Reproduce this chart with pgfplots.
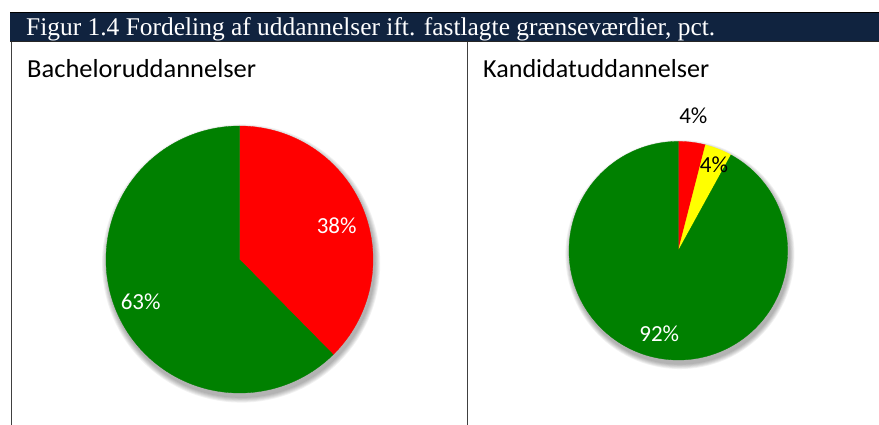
\documentclass[border=0pt]{standalone}
\usepackage{pgfplots}
\pgfplotsset{compat=1.18}
\usepackage{fontspec}
\setmainfont{Liberation Serif}
\newfontfamily\carlito{Carlito}
\definecolor{navy}{HTML}{10233F}
\definecolor{pgreen}{HTML}{008000}
\definecolor{pred}{HTML}{FF0000}
\definecolor{pyellow}{HTML}{FFFF00}

% data (pct.)
\def\bRed{38}\def\bGreen{63}
\def\kRed{4}\def\kYellow{4}\def\kGreen{92}

\pgfplotsset{pie/.style={scale only axis, anchor=center, hide axis, clip=false,
  xmin=-1.2,xmax=1.2,ymin=-1.2,ymax=1.2}}

\begin{document}
\begin{tikzpicture}[x=1pt,y=-1pt]
\useasboundingbox (0,0) rectangle (879,425);
\fill[white] (0,0) rectangle (879,425);
\fill[navy] (10,12) rectangle (879,42);
\draw[black,line width=1.3pt] (10,12.6) -- (879,12.6);
\draw[black!85,line width=1.3pt] (10,41.4) -- (879,41.4);
\draw[black!75,line width=1.2pt] (11.6,42) -- (11.6,425);
\draw[black!75,line width=1.2pt] (467.6,42) -- (467.6,425);
\node[anchor=base west,inner sep=0,text=white,font=\fontsize{25.5}{30}\selectfont] at (26,36)
  {\resizebox{689pt}{\height}{Figur 1.4 Fordeling af uddannelser ift. fastlagte grænseværdier, pct.}};
\node[anchor=base west,inner sep=0,font=\carlito\fontsize{26}{30}\selectfont] at (27,78)
  {\resizebox{229pt}{\height}{Bacheloruddannelser}};
\node[anchor=base west,inner sep=0,font=\carlito\fontsize{26}{30}\selectfont] at (483,78)
  {\resizebox{226pt}{\height}{Kandidatuddannelser}};

% ---- Bachelor pie
\pgfmathsetmacro\bTot{\bRed+\bGreen}
\pgfmathsetmacro\bA{90-360*\bRed/\bTot}
\begin{axis}[pie, at={(239.5pt,-259.5pt)}, width=320.4pt, height=320.4pt]
\pgfplotsinvokeforeach{1,...,6}{
  \addplot[fill=black,draw=none,opacity=0.055,domain=0:360,samples=120]
    ({(1+#1*0.007)*cos(x)+0.012},{(1+#1*0.007)*sin(x)-0.03}) -- cycle;
}
\addplot[fill=pred,draw=pred,line width=0.3pt,domain=\bA:90,samples=120]
  ({cos(x)},{sin(x)}) -- (axis cs:0,0) -- cycle;
\addplot[fill=pgreen,draw=pgreen,line width=0.3pt,domain=-270:\bA,samples=200]
  ({cos(x)},{sin(x)}) -- (axis cs:0,0) -- cycle;
\end{axis}

% ---- Kandidat pie
\pgfmathsetmacro\kTot{\kRed+\kYellow+\kGreen}
\pgfmathsetmacro\kA{90-360*\kRed/\kTot}
\pgfmathsetmacro\kB{\kA-360*\kYellow/\kTot}
\begin{axis}[pie, at={(678.3pt,-250.7pt)}, width=262.3pt, height=262.3pt]
\pgfplotsinvokeforeach{1,...,6}{
  \addplot[fill=black,draw=none,opacity=0.055,domain=0:360,samples=120]
    ({(1+#1*0.008)*cos(x)+0.015},{(1+#1*0.008)*sin(x)-0.035}) -- cycle;
}
\addplot[fill=pred,draw=pred,line width=0.3pt,domain=\kA:90,samples=30]
  ({cos(x)},{sin(x)}) -- (axis cs:0,0) -- cycle;
\addplot[fill=pyellow,draw=pyellow,line width=0.3pt,domain=\kB:\kA,samples=30]
  ({cos(x)},{sin(x)}) -- (axis cs:0,0) -- cycle;
\addplot[fill=pgreen,draw=pgreen,line width=0.3pt,domain=-270:\kB,samples=220]
  ({cos(x)},{sin(x)}) -- (axis cs:0,0) -- cycle;
\end{axis}

% labels
\begin{scope}[every node/.style={font=\carlito\fontsize{23}{27}\selectfont,inner sep=0}]
\node[text=white] at (336.7,225.7) {38\%};
\node[text=white] at (140.7,302) {63\%};
\node[text=black] at (693.3,115.7) {4\%};
\node[text=black] at (714,165) {4\%};
\node[text=white] at (659.3,334) {92\%};
\end{scope}
\end{tikzpicture}
\end{document}
